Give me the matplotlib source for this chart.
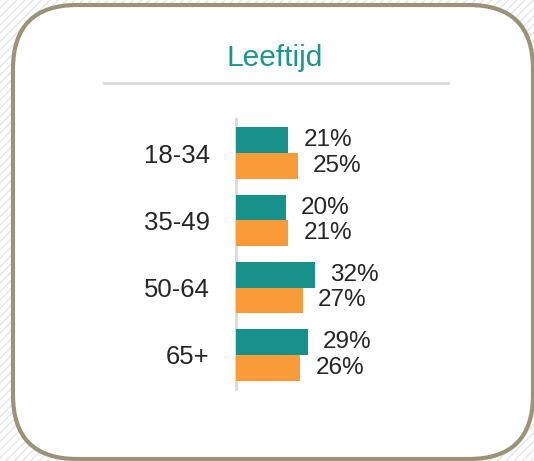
import matplotlib
matplotlib.use("Agg")
import matplotlib.pyplot as plt
from matplotlib.patches import FancyBboxPatch, Rectangle
import numpy as np

plt.rcParams['font.family'] = ['Liberation Sans', 'DejaVu Sans']
plt.rcParams['hatch.color'] = '#e6e6e6'
plt.rcParams['hatch.linewidth'] = 1.0

categories = ["18-34", "35-49", "50-64", "65+"]
series_a = [21, 20, 32, 29]   # teal
series_b = [25, 21, 27, 26]   # orange
title = "Leeftijd"

W, H = 534, 461
fig = plt.figure(figsize=(W / 100, H / 100), dpi=100)
fig.patch.set_facecolor('white')

# hatched background
bg = Rectangle((0, 0), 1, 1, transform=fig.transFigure, facecolor='white',
               edgecolor='#e6e6e6', hatch='////', linewidth=0, zorder=0)
fig.patches.append(bg)

# rounded card
x0, y0, x1, y1 = 13, 5, 533, 459
r = 64
card = FancyBboxPatch(((x0 + r) / W, 1 - (y1 - r) / H), (x1 - x0 - 2 * r) / W, (y1 - y0 - 2 * r) / H,
                      boxstyle=f"round,pad={r / W}", transform=fig.transFigure,
                      facecolor='white', edgecolor='#9b9278', linewidth=3, zorder=1,
                      mutation_aspect=W / H)
fig.patches.append(card)

# title and underline
fig.text(275 / W, 1 - 58 / H, title, ha='center', va='center', fontsize=21.5,
         color='#1a968e', zorder=3)
fig.add_artist(plt.Line2D([104 / W, 448 / W], [1 - 83 / H, 1 - 83 / H], color='#d9d9d9',
                          linewidth=2, transform=fig.transFigure, zorder=3))

# axes
ax_left, ax_top, ax_bottom = 236, 119, 389
ax = fig.add_axes([ax_left / W, 1 - ax_bottom / H, 99 / W, (ax_bottom - ax_top) / H])
ax.set_facecolor('none')
ax.set_zorder(4)
y = np.arange(len(categories))
h = 0.38
ax.barh(y - h / 2, series_a, height=h, color='#17918a', zorder=3)
ax.barh(y + h / 2, series_b, height=h, color='#f99b39', zorder=3)
ax.set_xlim(0, 40)
ax.set_ylim(3.505, -0.505)
for s in ['top', 'right', 'bottom']:
    ax.spines[s].set_visible(False)
ax.spines['left'].set_color('#dcdcdc')
ax.spines['left'].set_linewidth(2.2)
ax.spines['left'].set_zorder(1)
ax.set_xticks([])
ax.set_yticks(y)
ax.set_yticklabels(categories, fontsize=18.5, color='#262626')
ax.tick_params(axis='y', length=0, pad=19)

for i in range(len(categories)):
    ax.annotate(f"{series_a[i]}%", (series_a[i], y[i] - h / 2), xytext=(11, 0),
                textcoords='offset points', va='center', ha='left', fontsize=17.5, color='#262626',
                annotation_clip=False)
    ax.annotate(f"{series_b[i]}%", (series_b[i], y[i] + h / 2), xytext=(11, 0),
                textcoords='offset points', va='center', ha='left', fontsize=17.5, color='#262626',
                annotation_clip=False)

fig.savefig("out.png", dpi=100)
